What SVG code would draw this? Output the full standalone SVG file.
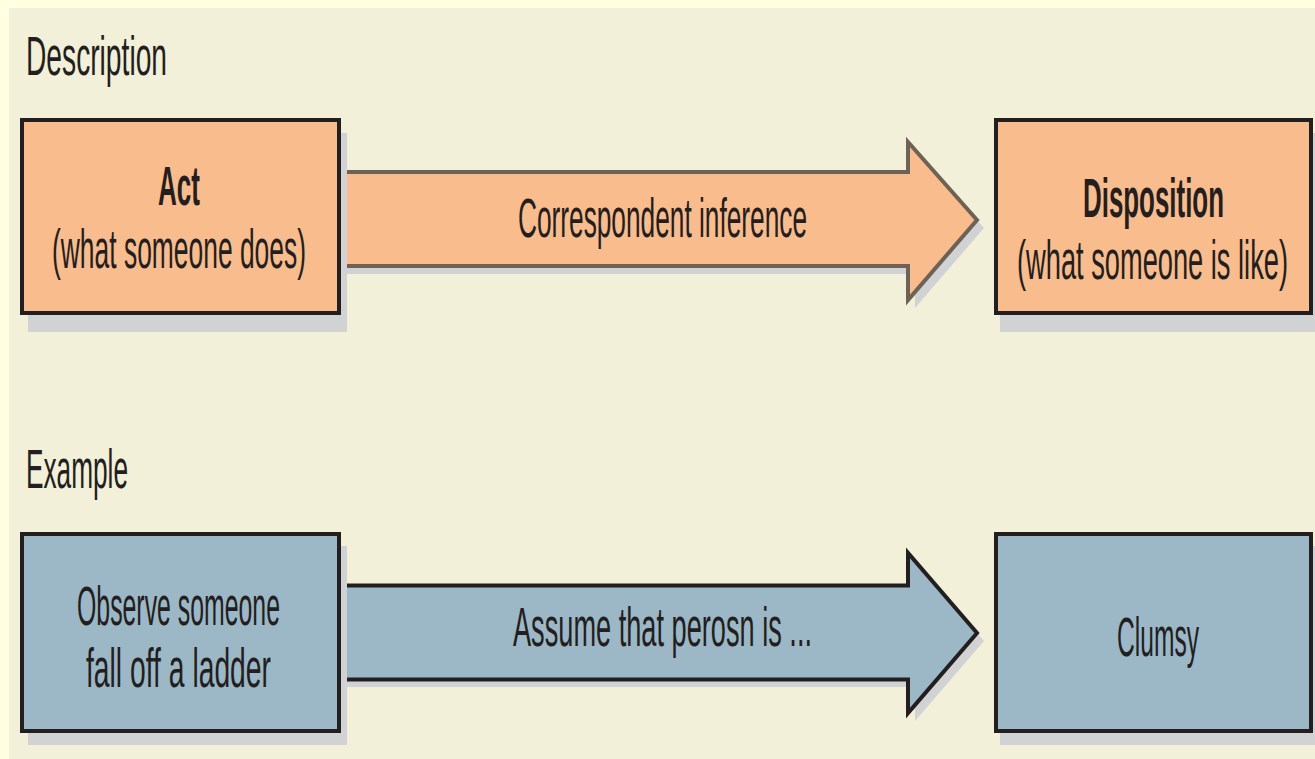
<svg xmlns="http://www.w3.org/2000/svg" width="1315" height="759" viewBox="0 0 1315 759">
<style>
text{font-family:"Liberation Sans",Arial,sans-serif;font-size:55px;fill:#231F20}
.b{font-weight:bold}
.box{stroke:#231F20;stroke-width:4}
.org{fill:#F9BC8C}
.blu{fill:#9CB8C7}
.sh{fill:#D1D2D4}
</style>
<rect x="0" y="0" width="1315" height="759" fill="#FFFFE2"/>
<rect x="9" y="8" width="1306" height="751" fill="#F2F0D8"/>
<text transform="scale(0.5 1)" x="52" y="75" textLength="282" lengthAdjust="spacingAndGlyphs">Description</text>
<text transform="scale(0.5 1)" x="52" y="488" textLength="204" lengthAdjust="spacingAndGlyphs">Example</text>
<g id="connectors">
  <g id="arrow-inference">
    <polygon class="sh" points="345,180 915,180 915,150 984,228 915,308 915,274 345,274"/>
    <polygon class="org" points="338,172 908,172 908,142 977,220 908,300 908,266 338,266" stroke="#6E6256" stroke-width="4"/>
    <text transform="scale(0.5 1)" x="1036" y="237" textLength="578" lengthAdjust="spacingAndGlyphs">Correspondent inference</text>
  </g>
  <g id="arrow-assume">
    <polygon class="sh" points="345,593 915,593 915,561 984,641 915,721 915,687 345,687"/>
    <polygon class="blu" points="338,585.5 908,585.5 908,553 977,633 908,713 908,679.5 338,679.5" stroke="#231F20" stroke-width="4"/>
    <text transform="scale(0.5 1)" x="1026" y="646" textLength="598" lengthAdjust="spacingAndGlyphs">Assume that perosn is ...</text>
  </g>
</g>
<g id="act">
  <rect class="sh" x="28" y="133" width="319" height="199"/>
  <rect class="box org" x="22" y="120" width="317" height="193"/>
  <text class="b" transform="scale(0.5 1)" x="316" y="205" textLength="84" lengthAdjust="spacingAndGlyphs">Act</text>
  <text transform="scale(0.5 1)" x="104" y="268" textLength="508" lengthAdjust="spacingAndGlyphs">(what someone does)</text>
</g>
<g id="disposition">
  <rect class="sh" x="1000" y="133" width="315" height="199"/>
  <rect class="box org" x="996" y="120" width="315" height="193"/>
  <text class="b" transform="scale(0.5 1)" x="2166" y="217" textLength="282" lengthAdjust="spacingAndGlyphs">Disposition</text>
  <text transform="scale(0.5 1)" x="2034" y="279" textLength="542" lengthAdjust="spacingAndGlyphs">(what someone is like)</text>
</g>
<g id="observe">
  <rect class="sh" x="28" y="546" width="319" height="199"/>
  <rect class="box blu" x="22" y="534" width="317" height="197"/>
  <text transform="scale(0.5 1)" x="154" y="625" textLength="406" lengthAdjust="spacingAndGlyphs">Observe someone</text>
  <text transform="scale(0.5 1)" x="172" y="687" textLength="370" lengthAdjust="spacingAndGlyphs">fall off a ladder</text>
</g>
<g id="clumsy">
  <rect class="sh" x="1000" y="546" width="315" height="199"/>
  <rect class="box blu" x="996" y="534" width="315" height="197"/>
  <text transform="scale(0.5 1)" x="2234" y="656" textLength="164" lengthAdjust="spacingAndGlyphs">Clumsy</text>
</g>
</svg>
